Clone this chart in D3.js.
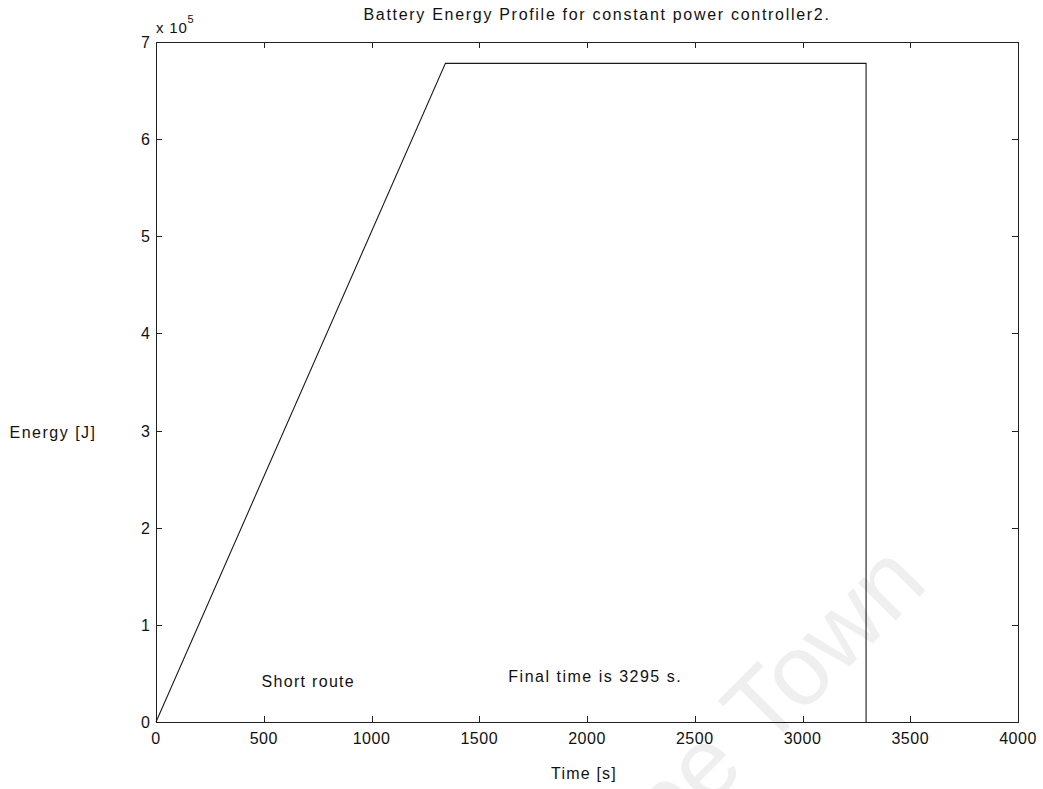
<!DOCTYPE html>
<html>
<head>
<meta charset="utf-8">
<script src="https://cdn.jsdelivr.net/npm/d3@7"></script>
<style>
  html, body { margin: 0; padding: 0; background: #fff; }
  svg { display: block; font-family: "Liberation Sans", Arial, Helvetica, sans-serif; }
</style>
</head>
<body>
<svg id="chart" width="1043" height="789"></svg>
<script>
// Battery energy over time for the constant power controller (short route)
const timeS    = [0, 1343, 3295, 3295];
const energyJ  = [0, 678000, 678000, 0];
const xTicks   = [0, 500, 1000, 1500, 2000, 2500, 3000, 3500, 4000];
const yTicks   = [0, 1, 2, 3, 4, 5, 6, 7];          // in units of 10^5 J
const yExponent = 5;
const notes = [
  { t: 490,  e: 42000, text: "Short route", ls: 1.3 },
  { t: 1635, e: 47000, text: "Final time is 3295 s.", ls: 1.5 }
];

const svg = d3.select("#chart");
const plotL = 156, plotR = 1018, plotT = 42, plotB = 722;

const x = d3.scaleLinear().domain([0, 4000]).range([plotL, plotR]);
const y = d3.scaleLinear().domain([0, 7e5]).range([plotB, plotT]);

// faint background watermark
svg.append("text")
  .attr("transform", "translate(930,586) rotate(-45)")
  .attr("text-anchor", "end")
  .attr("font-size", 100)
  .attr("fill", "#efefef")
  .text("Cape Town");

// axes box
svg.append("rect")
  .attr("x", plotL + 0.5).attr("y", plotT + 0.5)
  .attr("width", plotR - plotL).attr("height", plotB - plotT)
  .attr("fill", "none").attr("stroke", "#222").attr("stroke-width", 1);

const tickLen = 6;
const tickFont = 16;

// x ticks (inward, bottom and top) with labels
const xg = svg.append("g");
xTicks.forEach(v => {
  const px = Math.round(x(v)) + 0.5;
  xg.append("line").attr("x1", px).attr("x2", px).attr("y1", plotB).attr("y2", plotB - tickLen)
    .attr("stroke", "#222");
  xg.append("line").attr("x1", px).attr("x2", px).attr("y1", plotT).attr("y2", plotT + tickLen)
    .attr("stroke", "#222");
  xg.append("text").attr("x", x(v)).attr("y", plotB + 22)
    .attr("text-anchor", "middle").attr("font-size", tickFont).attr("fill", "#111")
    .attr("letter-spacing", 0.5)
    .text(v);
});

// y ticks (inward, left and right) with labels
const yg = svg.append("g");
yTicks.forEach(v => {
  const py = Math.round(y(v * 1e5)) + 0.5;
  yg.append("line").attr("x1", plotL).attr("x2", plotL + tickLen).attr("y1", py).attr("y2", py)
    .attr("stroke", "#222");
  yg.append("line").attr("x1", plotR).attr("x2", plotR - tickLen).attr("y1", py).attr("y2", py)
    .attr("stroke", "#222");
  yg.append("text").attr("x", plotL - 6).attr("y", y(v * 1e5) + 6)
    .attr("text-anchor", "end").attr("font-size", tickFont).attr("fill", "#111")
    .text(v);
});

// exponent label
const ex = svg.append("text").attr("x", plotL).attr("y", 33)
  .attr("font-size", 15).attr("fill", "#111").attr("letter-spacing", 0.8);
ex.append("tspan").text("x 10");
ex.append("tspan").attr("dy", -10).attr("font-size", 11).text(yExponent);

// energy profile line
const pts = timeS.map((t, i) => [t, energyJ[i]]);
svg.append("path")
  .datum(pts)
  .attr("d", d3.line().x(d => x(d[0])).y(d => y(d[1])))
  .attr("fill", "none").attr("stroke", "#1a1a1a").attr("stroke-width", 1.1);

// annotations
notes.forEach(n => {
  svg.append("text").attr("x", x(n.t)).attr("y", y(n.e) + 6)
    .attr("font-size", 16).attr("letter-spacing", n.ls).attr("fill", "#111").text(n.text);
});

// title and axis labels
svg.append("text").attr("x", 597).attr("y", 20).attr("text-anchor", "middle")
  .attr("font-size", 16).attr("letter-spacing", 1.7).attr("fill", "#111")
  .text("Battery Energy Profile for constant power controller2.");
svg.append("text").attr("x", 584).attr("y", 779).attr("text-anchor", "middle")
  .attr("font-size", 16).attr("letter-spacing", 1.2).attr("fill", "#111").text("Time [s]");
svg.append("text").attr("x", 53).attr("y", 438).attr("text-anchor", "middle")
  .attr("font-size", 16).attr("letter-spacing", 1.5).attr("fill", "#111").text("Energy [J]");
</script>
</body>
</html>
